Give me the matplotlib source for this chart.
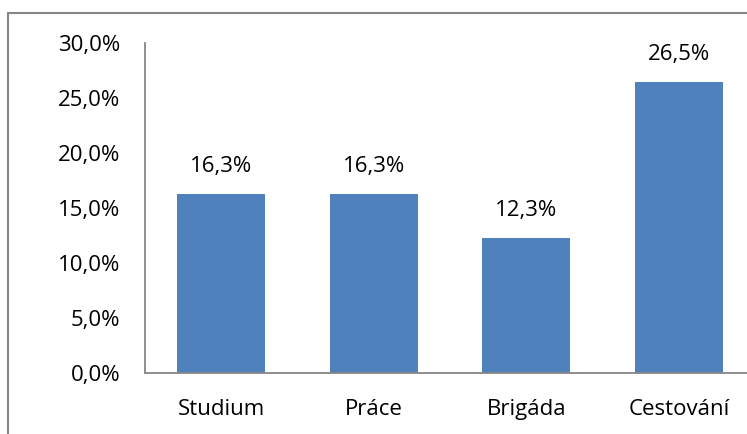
import matplotlib
matplotlib.use("Agg")
import matplotlib.pyplot as plt
from matplotlib.patches import Rectangle

categories = ["Studium", "Práce", "Brigáda", "Cestování"]
values = [16.3, 16.3, 12.3, 26.5]
yticks = [0, 5, 10, 15, 20, 25, 30]
ytick_labels = ["0,0%", "5,0%", "10,0%", "15,0%", "20,0%", "25,0%", "30,0%"]

W, H = 747, 434
fig = plt.figure(figsize=(W / 100, H / 100), dpi=100)
plt.rcParams['font.family'] = ['Open Sans', 'DejaVu Sans']

# outer chart border (cropped at right and bottom)
fig.patches.append(Rectangle((8 / W, -0.1), 1.2, (H - 13) / H + 0.1,
                             transform=fig.transFigure, fill=False,
                             edgecolor="#868686", linewidth=1.5))

left, right = 145, 755
top, bottom = 43, 373
ax = fig.add_axes([left / W, 1 - bottom / H, (right - left) / W, (bottom - top) / H])
ax.set_facecolor("none")

FS = 16
x = list(range(len(categories)))
bars = ax.bar(x, values, width=0.575, color="#4F81BD", zorder=2)
ax.set_xlim(-0.5, len(categories) - 0.5)
ax.set_ylim(0, 30)
ax.set_yticks(yticks)
ax.set_yticklabels(ytick_labels)
ax.set_xticks(x)
ax.set_xticklabels(categories)
ax.tick_params(axis="both", length=0, labelsize=FS, colors="black")
ax.tick_params(axis="y", pad=18)
ax.tick_params(axis="x", pad=19)
for s in ["top", "right"]:
    ax.spines[s].set_visible(False)
for s in ["left", "bottom"]:
    ax.spines[s].set_color("#868686")
    ax.spines[s].set_linewidth(1.3)

for xi, v in zip(x, values):
    ax.annotate(f"{v:.1f}%".replace(".", ","), (xi, v), xytext=(0, 12),
                textcoords="offset points", ha="center", va="bottom",
                fontsize=FS)

fig.savefig("out.png", dpi=100)
